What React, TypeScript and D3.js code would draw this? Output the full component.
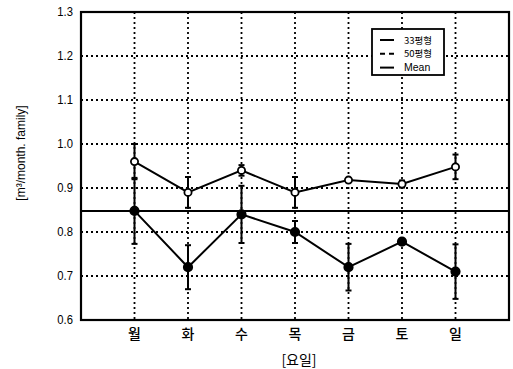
import React, { useRef, useEffect } from 'react';
import * as d3 from 'd3';

// days of week on the x axis
const days = ['월', '화', '수', '목', '금', '토', '일'];
// 33평형 (filled markers)
const size33 = [0.848, 0.72, 0.84, 0.8, 0.72, 0.778, 0.71];
const err33 = [0.075, 0.05, 0.065, 0.025, 0.053, 0, 0.062];
// 50평형 (open markers)
const size50 = [0.96, 0.89, 0.94, 0.89, 0.918, 0.909, 0.948];
const err50 = [0.04, 0.035, 0.012, 0.035, 0, 0.008, 0.028];
const meanValue = 0.848;
const yTicks = [0.6, 0.7, 0.8, 0.9, 1.0, 1.1, 1.2, 1.3];
const legendItems = ['33평형', '50평형', 'Mean'];

const W = 513, H = 369;
const FONT = "'Liberation Sans', Arial, sans-serif";
const KFONT = "'Noto Sans CJK KR', sans-serif";

function App() {
    const ref = useRef<SVGSVGElement | null>(null);

    useEffect(() => {
        const svg = d3.select(ref.current);
        svg.selectAll('*').remove();

        const left = 81, right = 509, top = 12, bottom = 320;
        const x = d3.scaleLinear().domain([0, days.length + 1]).range([left, right]);
        const y = d3.scaleLinear().domain([0.6, 1.3]).range([bottom, top]);

        svg.append('rect').attr('width', W).attr('height', H).attr('fill', '#fff');

        // dotted grid
        const grid = svg.append('g')
            .attr('stroke', '#000')
            .attr('stroke-width', 1.8)
            .attr('stroke-dasharray', '2,3');
        grid.selectAll('.hg')
            .data(yTicks.slice(1, -1))
            .enter().append('line')
            .attr('x1', left).attr('x2', right)
            .attr('y1', d => y(d)).attr('y2', d => y(d));
        grid.selectAll('.vg')
            .data(days)
            .enter().append('line')
            .attr('x1', (d, i) => x(i + 1)).attr('x2', (d, i) => x(i + 1))
            .attr('y1', top).attr('y2', bottom);

        // mean line
        svg.append('line')
            .attr('x1', left).attr('x2', right)
            .attr('y1', y(meanValue)).attr('y2', y(meanValue))
            .attr('stroke', '#000').attr('stroke-width', 2);

        // frame
        svg.append('rect')
            .attr('x', left).attr('y', top)
            .attr('width', right - left).attr('height', bottom - top)
            .attr('fill', 'none').attr('stroke', '#000').attr('stroke-width', 2.2);

        // y tick labels
        svg.append('g').selectAll('text')
            .data(yTicks)
            .enter().append('text')
            .attr('x', left - 8)
            .attr('y', d => y(d) + 4.5)
            .attr('text-anchor', 'end')
            .attr('font-family', FONT)
            .attr('font-size', 12.5)
            .attr('transform-origin', d => `${left - 8}px ${y(d)}px`)
            .attr('transform', 'scale(0.9,1)')
            .text(d => d.toFixed(1));

        // x tick labels
        svg.append('g').selectAll('text')
            .data(days)
            .enter().append('text')
            .attr('x', (d, i) => x(i + 1))
            .attr('y', 339)
            .attr('text-anchor', 'middle')
            .attr('font-family', KFONT)
            .attr('font-size', 14)
            .attr('font-weight', 500)
            .text(d => d);

        svg.append('text')
            .attr('x', (left + right) / 2 + 4)
            .attr('y', 365)
            .attr('text-anchor', 'middle')
            .attr('font-family', KFONT)
            .attr('font-size', 14)
            .text('[요일]');

        svg.append('text')
            .attr('transform', `translate(25,153) rotate(-90)`)
            .attr('text-anchor', 'middle')
            .attr('font-family', FONT)
            .attr('font-size', 12)
            .text('[m³/month. family]');

        const line = d3.line<number>()
            .x((d, i) => x(i + 1))
            .y(d => y(d));

        const drawSeries = (vals: number[], errs: number[], open: boolean) => {
            const g = svg.append('g');
            g.append('path')
                .datum(vals)
                .attr('d', line)
                .attr('fill', 'none')
                .attr('stroke', '#000')
                .attr('stroke-width', 2);
            const eb = g.selectAll('.eb')
                .data(vals.map((v, i) => ({ v, e: errs[i], i })).filter(d => d.e > 0))
                .enter().append('g')
                .attr('stroke', '#000')
                .attr('stroke-width', 2);
            eb.append('line')
                .attr('x1', d => x(d.i + 1)).attr('x2', d => x(d.i + 1))
                .attr('y1', d => y(d.v - d.e)).attr('y2', d => y(d.v + d.e));
            eb.append('line')
                .attr('x1', d => x(d.i + 1) - 3).attr('x2', d => x(d.i + 1) + 3)
                .attr('y1', d => y(d.v - d.e)).attr('y2', d => y(d.v - d.e));
            eb.append('line')
                .attr('x1', d => x(d.i + 1) - 3).attr('x2', d => x(d.i + 1) + 3)
                .attr('y1', d => y(d.v + d.e)).attr('y2', d => y(d.v + d.e));
            g.selectAll('circle')
                .data(vals)
                .enter().append('circle')
                .attr('cx', (d, i) => x(i + 1))
                .attr('cy', d => y(d))
                .attr('r', open ? 3.6 : 4.2)
                .attr('fill', open ? '#fff' : '#000')
                .attr('stroke', '#000')
                .attr('stroke-width', 1.8);
        };
        drawSeries(size33, err33, false);
        drawSeries(size50, err50, true);

        // legend
        const lg = svg.append('g').attr('transform', 'translate(372,29)');
        lg.append('rect')
            .attr('width', 72).attr('height', 46)
            .attr('fill', '#fff').attr('stroke', '#000').attr('stroke-width', 1.8);
        const li = lg.selectAll('.li')
            .data(legendItems)
            .enter().append('g')
            .attr('transform', (d, i) => `translate(0,${11 + i * 13.8})`);
        li.append('line')
            .attr('x1', 8).attr('x2', 22)
            .attr('y1', 0).attr('y2', 0)
            .attr('stroke', '#000').attr('stroke-width', 2)
            .attr('stroke-dasharray', (d, i) => (i === 1 ? '5,4' : null));
        li.append('text')
            .attr('x', 32).attr('y', 3.5)
            .attr('font-family', (d, i) => (i < 2 ? KFONT : FONT))
            .attr('font-size', (d, i) => (i < 2 ? 9.5 : 10.5))
            .text(d => d);
    }, []);

    return (
        <div style={{ position: 'fixed', left: 0, top: 0 }}>
            <svg ref={ref} width={W} height={H} style={{ display: 'block' }} />
        </div>
    );
}

export default App;
